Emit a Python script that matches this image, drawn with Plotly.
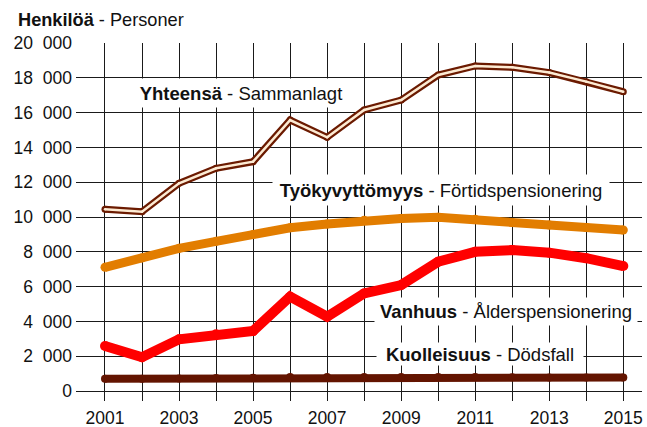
import plotly.graph_objects as go

years = list(range(2001, 2016))
yhteensa = [10450, 10300, 11940, 12800, 13180, 15570, 14580, 16150, 16720, 18160, 18680, 18600, 18300, 17780, 17200]
tyokyvyttomyys = [7110, 7650, 8200, 8600, 9000, 9380, 9600, 9820, 9920, 9980, 9870, 9680, 9540, 9390, 9250]
vanhuus = [2590, 1940, 2970, 3260, 3450, 5420, 4270, 5610, 6090, 7430, 8000, 8100, 7950, 7630, 7180]
kuolleisuus = [700, 710, 720, 740, 760, 800, 810, 810, 800, 810, 800, 790, 780, 780, 780]

x_tick_labels = [str(y) if y % 2 == 1 else "" for y in years]
y_tick_vals = list(range(0, 20001, 2000))
y_tick_labels = ["0" if v == 0 else f"{v // 1000}\u2007000" for v in y_tick_vals]

FONT = "Liberation Sans, Arial, sans-serif"

fig = go.Figure()

def add_line(vals, color, width):
    fig.add_trace(go.Scatter(
        x=years, y=vals, mode="lines+markers",
        line=dict(color=color, width=width),
        marker=dict(color=color, size=width, line=dict(width=0)),
        hoverinfo="skip", showlegend=False,
    ))

add_line(kuolleisuus, "#631400", 8)
add_line(vanhuus, "#FF0000", 10)
add_line(tyokyvyttomyys, "#E27D00", 9)
add_line(yhteensa, "#6B1A00", 7)
add_line(yhteensa, "#FDEBD3", 2.5)

def label(x, y, bold, normal, w, h):
    fig.add_annotation(
        x=x, y=y, xref="x", yref="y",
        text=f"<b>{bold}</b> - {normal}",
        showarrow=False, bgcolor="white", width=w, height=h,
        borderpad=0, align="center",
        font=dict(family=FONT, size=18.5, color="#111111"),
    )

label(2004.67, 17126, "Yhteensä", "Sammanlagt", 234, 28)
label(2010.08, 11551, "Työkyvyttömyys", "Förtidspensionering", 336, 30)
label(2011.83, 4569, "Vanhuus", "Ålderspensionering", 262, 27)
label(2011.13, 2126, "Kuolleisuus", "Dödsfall", 206, 22)

fig.add_annotation(
    xref="paper", yref="paper", x=-0.106, y=1.064,
    xanchor="left", yanchor="middle", showarrow=False,
    text="<b>Henkilöä</b> - Personer",
    font=dict(family=FONT, size=18.2, color="#111111"),
)

grid = "#1a1a1a"
fig.update_layout(
    width=647, height=427,
    margin=dict(l=76, r=5, t=43, b=26),
    paper_bgcolor="white", plot_bgcolor="white",
    font=dict(family=FONT, size=17.5, color="#111111"),
    hovermode=False,
    xaxis=dict(
        range=[2000.217, 2015.505], tickvals=years, ticktext=x_tick_labels,
        showgrid=True, gridcolor=grid, gridwidth=1, zeroline=False,
        showline=False, ticks="", fixedrange=True, automargin=False,
        ticklabelstandoff=4,
    ),
    yaxis=dict(
        range=[-575, 20000], tickvals=y_tick_vals, ticktext=y_tick_labels,
        showgrid=True, gridcolor=grid, gridwidth=1, zeroline=False,
        showline=False, ticks="", fixedrange=True, automargin=False,
        ticklabelstandoff=3,
    ),
)

fig.write_html(
    "out.html",
    config={"displayModeBar": False},
    post_script="document.body.style.margin='0';document.body.style.overflow='hidden';",
)
